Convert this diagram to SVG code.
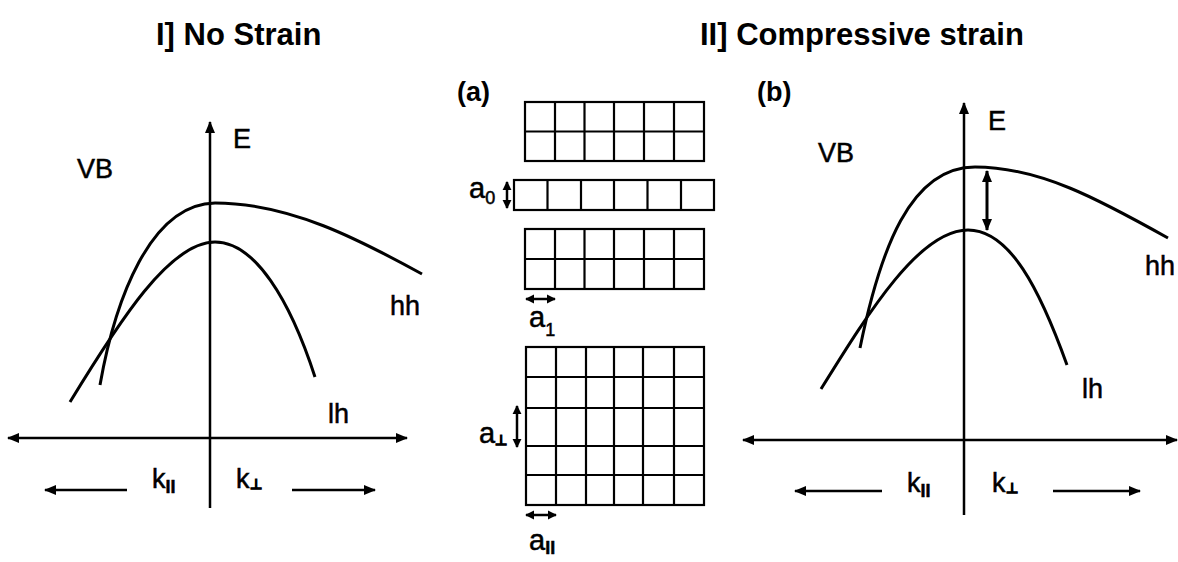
<svg xmlns="http://www.w3.org/2000/svg" width="1178" height="562" viewBox="0 0 1178 562">
<defs>
<style>
.t{font-family:"Liberation Sans",Arial,sans-serif;fill:#000}
.title{font-size:31px;font-weight:bold}
.lab{font-size:27px;stroke:#000;stroke-width:0.5}
.al{font-size:29px;stroke:#000;stroke-width:0.5}
.sub{font-size:18px;font-weight:bold}
.perp{font-size:14px;font-weight:bold;stroke:#000;stroke-width:1}
.bold{font-weight:bold;stroke-width:0}
.ax{stroke:#000;stroke-width:2.5;fill:none}
.cv{stroke:#000;stroke-width:3;fill:none}
.grid{stroke:#000;stroke-width:2.2;fill:none}
</style>
<marker id="ah" viewBox="0 0 12 10" refX="11" refY="5" markerWidth="12" markerHeight="10" markerUnits="userSpaceOnUse" orient="auto-start-reverse">
<path d="M0,0 L12,5 L0,10 Z" fill="#000"/>
</marker>
<marker id="sh" viewBox="0 0 10 10" refX="9" refY="5" markerWidth="9" markerHeight="10" markerUnits="userSpaceOnUse" orient="auto-start-reverse">
<path d="M0,0 L10,5 L0,10 Z" fill="#000"/>
</marker>
</defs>
<rect width="1178" height="562" fill="#fff"/>

<g id="titles">
<text class="t title" x="156" y="45">I] No Strain</text>
<text class="t title" x="700" y="45">II] Compressive strain</text>
</g>

<g id="panel-I">
<text class="t lab" x="77" y="178">VB</text>
<text class="t lab" x="233" y="148">E</text>
<text class="t lab" x="390" y="315">hh</text>
<text class="t lab" x="328" y="423">lh</text>
<text class="t lab" x="152" y="488">k<tspan class="sub" dy="5">II</tspan></text>
<text class="t lab" x="236" y="488">k<tspan class="perp" dy="1">⊥</tspan></text>
<path class="cv" d="M100,385 C115,300 150,204 215,203 C290,203 360,240 422,274"/>
<path class="cv" d="M70,402 C120,320 170,242 215,242 C255,242 290,300 315,377"/>
</g>

<g id="panel-a">
<text class="t lab bold" x="457" y="101">(a)</text>
<g id="grid-top" class="grid">
<rect x="525" y="102" width="179" height="59"/>
<path d="M525,131.5H704 M555,102V161 M584.5,102V161 M614,102V161 M644,102V161 M674,102V161"/>
</g>
<g id="strip" class="grid">
<rect x="514" y="180" width="200" height="30"/>
<path d="M547.5,180V210 M581,180V210 M614,180V210 M647.5,180V210 M681,180V210"/>
</g>
<g id="grid-mid" class="grid">
<rect x="525" y="229" width="179" height="60"/>
<path d="M525,259H704 M555,229V289 M584.5,229V289 M614,229V289 M644,229V289 M674,229V289"/>
</g>
<g id="grid-bottom" class="grid">
<rect x="526" y="347" width="178" height="158"/>
<path d="M526,377H704 M526,408H704 M526,446H704 M526,475H704 M556,347V505 M586,347V505 M614,347V505 M643,347V505 M674,347V505"/>
</g>
<text class="t al" x="469" y="198">a<tspan font-size="18" dy="6">0</tspan></text>
<text class="t al" x="529" y="327">a<tspan font-size="18" dy="9">1</tspan></text>
<text class="t al" x="479" y="443">a<tspan class="perp" dy="2">⊥</tspan></text>
<text class="t al" x="529" y="550">a<tspan class="sub" dy="4">II</tspan></text>
</g>

<g id="panel-b">
<text class="t lab bold" x="757" y="101">(b)</text>
<text class="t lab" x="818" y="162">VB</text>
<text class="t lab" x="988" y="130">E</text>
<text class="t lab" x="1145" y="275">hh</text>
<text class="t lab" x="1082" y="398">lh</text>
<text class="t lab" x="907" y="492">k<tspan class="sub" dy="5">II</tspan></text>
<text class="t lab" x="992" y="492">k<tspan class="perp" dy="1">⊥</tspan></text>
<path class="cv" d="M860,348 C880,250 910,167 975,167 C1040,167 1100,200 1168,238"/>
<path class="cv" d="M821,389 C870,310 920,230 968,230 C1010,230 1040,290 1067,365"/>
</g>

<g id="connectors">
<line class="ax" x1="210" y1="508" x2="210" y2="122" marker-end="url(#ah)"/>
<line class="ax" x1="8" y1="438" x2="407" y2="438" marker-start="url(#ah)" marker-end="url(#ah)"/>
<line class="ax" x1="127" y1="490" x2="45" y2="490" marker-end="url(#ah)"/>
<line class="ax" x1="292" y1="490" x2="375" y2="490" marker-end="url(#ah)"/>
<line class="ax" x1="964" y1="515" x2="964" y2="103" marker-end="url(#ah)"/>
<line class="ax" x1="743" y1="440" x2="1177" y2="440" marker-start="url(#ah)" marker-end="url(#ah)"/>
<line class="ax" x1="882" y1="491" x2="795" y2="491" marker-end="url(#ah)"/>
<line class="ax" x1="1053" y1="491" x2="1140" y2="491" marker-end="url(#ah)"/>
<line class="cv" x1="987" y1="171" x2="987" y2="230" marker-start="url(#ah)" marker-end="url(#ah)"/>
<line class="ax" x1="507" y1="182" x2="507" y2="208" marker-start="url(#sh)" marker-end="url(#sh)"/>
<line class="ax" x1="526" y1="299" x2="555" y2="299" marker-start="url(#sh)" marker-end="url(#sh)"/>
<line class="ax" x1="517" y1="406" x2="517" y2="447" marker-start="url(#sh)" marker-end="url(#sh)"/>
<line class="ax" x1="526" y1="515" x2="556" y2="515" marker-start="url(#sh)" marker-end="url(#sh)"/>
</g>
</svg>
